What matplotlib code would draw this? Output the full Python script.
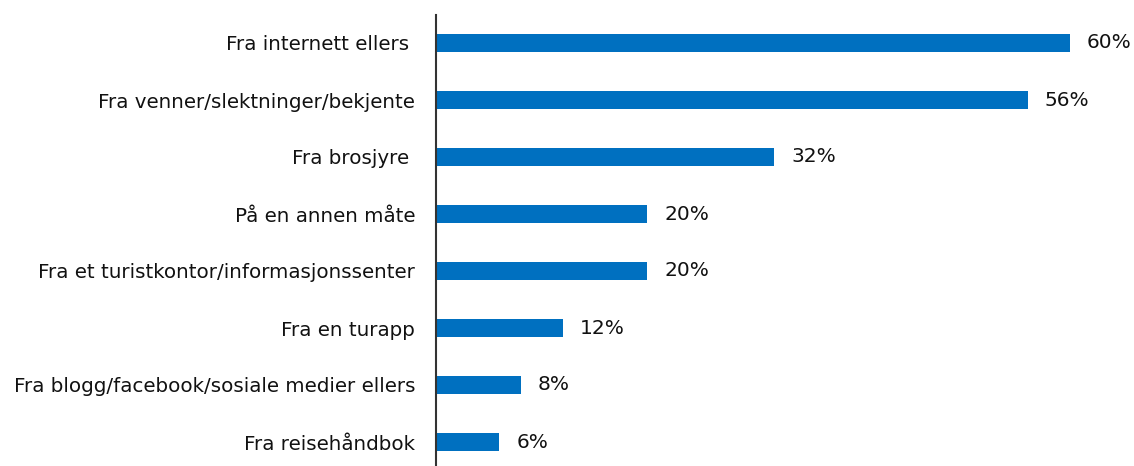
import matplotlib.pyplot as plt

# Data
categories = ['Fra internett ellers ', 'Fra venner/slektninger/bekjente', 'Fra brosjyre ',
              'På en annen måte', 'Fra et turistkontor/informasjonssenter', 'Fra en turapp',
              'Fra blogg/facebook/sosiale medier ellers', 'Fra reisehåndbok']
values = [60, 56, 32, 20, 20, 12, 8, 6]

plt.rcParams['font.family'] = ['DejaVu Sans']

fig = plt.figure(figsize=(11.34, 4.66), dpi=100)
ax = fig.add_axes([436 / 1134, -4.5 / 466, 698 / 1134, 456 / 466])

y = range(len(categories))
ax.barh(y, values, height=0.32, color='#0070C0')
ax.set_ylim(len(categories) - 0.5, -0.5)
ax.set_xlim(0, 698 / 10.567)

ax.set_yticks(list(y))
ax.set_yticklabels(categories, fontsize=14.3, color='#111111')
ax.tick_params(axis='y', length=0, pad=15)
ax.set_xticks([])

for s in ['top', 'right', 'bottom']:
    ax.spines[s].set_visible(False)
ax.spines['left'].set_color('#333333')
ax.spines['left'].set_linewidth(1.5)

for i, v in enumerate(values):
    ax.text(v + 1.6, i, f'{v}%', va='center', ha='left', fontsize=14.5, color='#111111')

fig.savefig('out.png', dpi=100)
